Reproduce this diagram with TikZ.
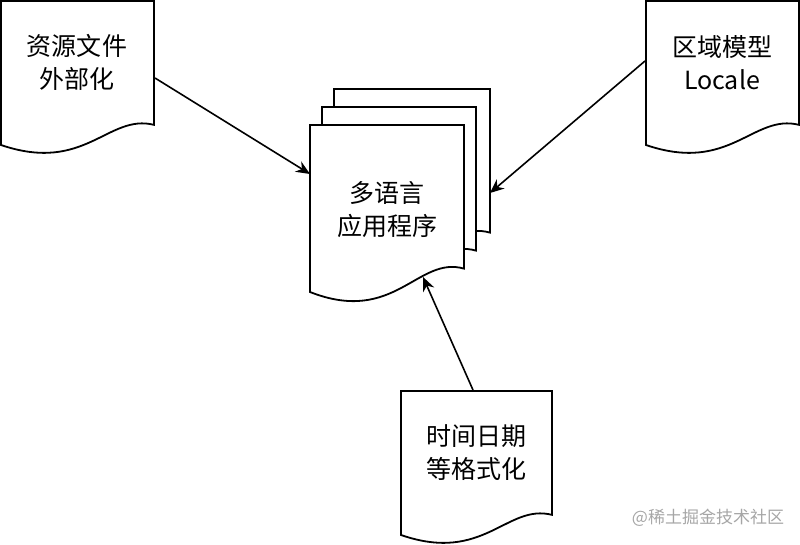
\documentclass[tikz,border=0pt]{standalone}
\usepackage{fontspec}
\newfontfamily\cjk{Noto Sans CJK SC}
\usetikzlibrary{arrows.meta}
\tikzset{
  doc/.style={draw=black, fill=white, line width=1.8pt, line join=miter},
  lbl/.style={font=\cjk\fontsize{25}{33}\selectfont, align=center, inner sep=0pt},
  link/.style={-{Stealth[length=14pt,width=12pt]}, line width=1.6pt}
}
% #1,#2 top left corner, #3 width, #4 height
\newcommand{\docshape}[4]{%
  \draw[doc] (#1,#2) -- ({#1+#3},#2) -- ({#1+#3},{#2+0.86*#4})
    .. controls ({#1+0.7*#3},{#2+0.78*#4}) and ({#1+0.55*#3},{#2+1.2*#4}) .. (#1,{#2+#4}) -- cycle;}
\begin{document}
\begin{tikzpicture}[x=1pt,y=-1pt]
  \useasboundingbox (0,0) rectangle (800,544);
  % sources
  \docshape{1}{1}{153}{144}
   \node[lbl](resrc) at (77,62) {资源文件\\外部化};
  \docshape{646}{1}{153}{144}
   \node[lbl](locale) at (722,63) {区域模型\\Locale};

  % stacked application
  \docshape{334}{89}{156}{167}
  \docshape{322}{107}{154}{167}
  \docshape{310}{125}{154}{167}
   \node[lbl](app) at (387,210) {多语言\\应用程序};

  \docshape{401}{391}{151}{144}
   \node[lbl](fmt) at (476,453) {时间日期\\等格式化};

  \node[text=black!35, font=\cjk\fontsize{17}{20}\selectfont](mark) at (708,518) {@稀土掘金技术社区};

  \coordinate (resrc-out) at (155,78);
  \coordinate (app-left) at (310,174);
  \coordinate (locale-out) at (645,61);
  \coordinate (app-right) at (490,193);
  \coordinate (fmt-out) at (473,390);
  \coordinate (app-bottom) at (423,277);
  \draw[link] (resrc-out) -- (app-left);
  \draw[link] (locale-out) -- (app-right);
  \draw[link] (fmt-out) -- (app-bottom);
\end{tikzpicture}
\end{document}
